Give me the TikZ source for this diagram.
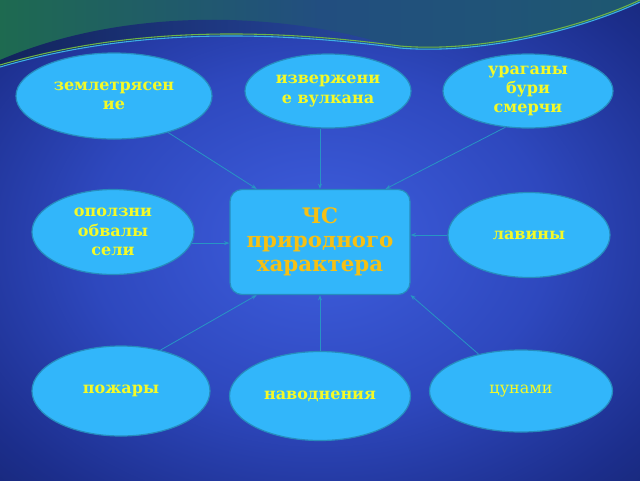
\documentclass[tikz,border=0pt]{standalone}
\usepackage{fontspec}
\setmainfont{DejaVu Serif}
\usetikzlibrary{shapes.geometric,arrows.meta,calc}
\definecolor{ellfill}{RGB}{50,182,250}
\definecolor{ellline}{RGB}{38,140,190}
\definecolor{txt}{RGB}{244,250,40}
\definecolor{cstxt}{RGB}{246,192,20}
\definecolor{connc}{RGB}{40,148,196}
\definecolor{bgA}{RGB}{62,94,222}
\definecolor{bgB}{RGB}{46,72,190}
\definecolor{bgC}{RGB}{28,46,140}
\definecolor{bgD}{RGB}{16,30,92}
\definecolor{bgE}{RGB}{6,16,44}
\definecolor{wgreen}{RGB}{30,106,80}
\definecolor{wblue}{RGB}{34,78,128}
\definecolor{wteal}{RGB}{30,88,112}
\definecolor{wnavyL}{RGB}{18,36,92}
\definecolor{wnavyR}{RGB}{40,72,160}
\definecolor{wlgreen}{RGB}{110,180,70}
\definecolor{wcyan}{RGB}{60,176,230}
\pgfdeclareradialshading{bgshade}{\pgfpoint{0bp}{0bp}}{color(0bp)=(bgA); color(18bp)=(bgB); color(32bp)=(bgC); color(46bp)=(bgD); color(70bp)=(bgE)}

\begin{document}
\begin{tikzpicture}[x=0.75pt,y=-0.75pt,
		ell/.style={ellipse,fill=ellfill,draw=ellline,line width=0.9pt,inner sep=0pt,align=center,
			text=txt,font=\bfseries\fontsize{12}{14.5}\selectfont},
		conn/.style={draw=connc,line width=0.6pt,-{Stealth[length=4pt,width=3pt]}}]
				\useasboundingbox (0,0) rectangle (640,480);
				
				% background
				\shade[shading=bgshade] (0,0) rectangle (640,480);
				\shade[left color=wgreen, right color=wteal, middle color=wblue]
				(0,0) -- (640,0) -- (640,2) .. controls (580,30) and (480,55) .. (400,48)
				.. controls (250,28) and (120,32) .. (0,67) -- cycle;
				\shade[left color=wnavyL, right color=wnavyR]
				(0,60) .. controls (70,30) and (150,18) .. (230,20) .. controls (290,22) and (340,30) .. (400,48)
				.. controls (250,28) and (120,32) .. (0,67) -- cycle;
				\draw[wlgreen,line width=0.8pt] (0,65) .. controls (120,30) and (250,26) .. (400,46) .. controls (480,53) and (580,28) .. (640,0);
				\draw[wcyan,line width=0.8pt] (0,67) .. controls (120,32) and (250,28) .. (400,48) .. controls (480,55) and (580,30) .. (640,2);
				
				% nodes
				\node[ell,minimum width=147pt,minimum height=64.5pt] (eq) at (114,96) {землетрясен\\ие};
				\node[ell,minimum width=124.5pt,minimum height=55.5pt] (vol) at (328,91) {извержени\\е вулкана};
				\node[ell,minimum width=127.5pt,minimum height=55.5pt] (hur) at (528,91) {ураганы\\бури\\смерчи};
				\node[ell,minimum width=121.5pt,minimum height=63.75pt] (land) at (113,232) {оползни\\обвалы\\сели};
				\node[ell,minimum width=121.5pt,minimum height=63.75pt] (av) at (529,235) {лавины};
				\node[ell,minimum width=133.5pt,minimum height=67.5pt] (fire) at (121,391) {пожары};
				\node[ell,minimum width=135.75pt,minimum height=66.75pt] (flood) at (320,396) {наводнения};
				\node[ell,minimum width=137.25pt,minimum height=61.5pt,font=\fontsize{12}{14}\selectfont] (tsu) at (521,391) {цунами};
				\node[rectangle,rounded corners=9pt,fill=ellfill,draw=ellline,line width=0.9pt,
					minimum width=135pt,minimum height=78.75pt,align=center,text=cstxt,
					font=\bfseries\fontsize{16}{18}\selectfont] (cs) at (320,242) {ЧС\\природного\\характера};
				
				% connectors
				\draw[conn] (eq.-34) -- (cs.140);
				\draw[conn] (vol.south -| cs.north) -- (cs.north);
				\draw[conn] (hur.-122) -- (cs.39);
				\draw[conn] (land.-8) -- (land.-8 -| cs.west);
				\draw[conn] (av.west) -- (av.west -| cs.east);
				\draw[conn] (fire.46) -- (cs.-140);
				\draw[conn] (flood.north) -- (cs.south);
				\draw[conn] (tsu.139) -- (cs.south east);
			\end{tikzpicture}
\end{document}
